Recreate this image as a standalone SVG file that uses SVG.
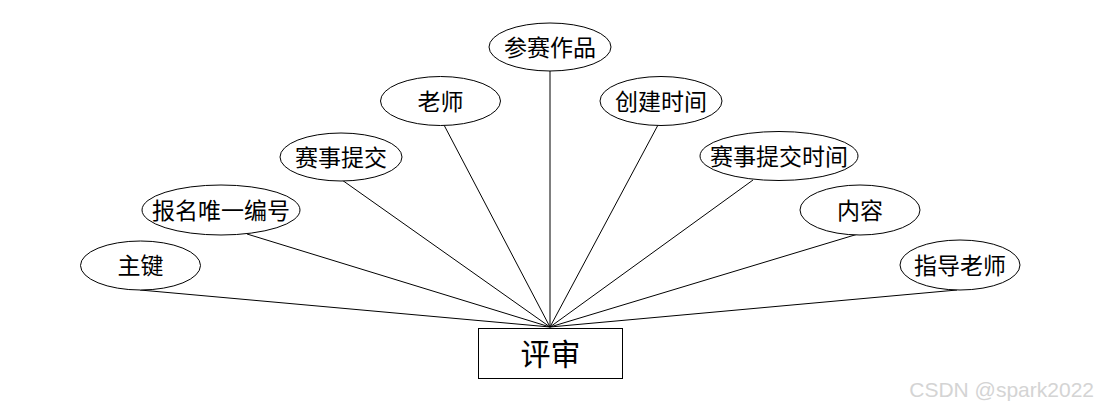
<svg xmlns="http://www.w3.org/2000/svg" width="1100" height="408" viewBox="0 0 1100 408">
<style>
.e{fill:#fff;stroke:#000;stroke-width:1}
.t{font-family:"Liberation Sans","Noto Sans CJK SC",sans-serif;font-size:23px;fill:#000;text-anchor:middle;dominant-baseline:central}
.c line{stroke:#000;stroke-width:1}
</style>
<rect width="1100" height="408" fill="#fff"/>
<g class="c" id="connectors">
<line x1="140" y1="290" x2="550" y2="327"/>
<line x1="247" y1="234" x2="550" y2="327"/>
<line x1="342" y1="180" x2="550" y2="327"/>
<line x1="444" y1="125" x2="550" y2="327"/>
<line x1="550" y1="71" x2="550" y2="327"/>
<line x1="658" y1="125" x2="550" y2="327"/>
<line x1="753" y1="180" x2="550" y2="327"/>
<line x1="858" y1="234" x2="550" y2="327"/>
<line x1="957" y1="290" x2="550" y2="327"/>
</g>
<g id="n1"><ellipse class="e" cx="140.5" cy="265.5" rx="60" ry="24.5"/><text class="t" x="140.5" y="266">主键</text></g>
<g id="n2"><ellipse class="e" cx="221" cy="210" rx="79" ry="25"/><text class="t" x="221" y="210.5">报名唯一编号</text></g>
<g id="n3"><ellipse class="e" cx="341" cy="157" rx="61" ry="24"/><text class="t" x="341" y="157.5">赛事提交</text></g>
<g id="n4"><ellipse class="e" cx="440.5" cy="101" rx="60" ry="24.5"/><text class="t" x="440.5" y="101.5">老师</text></g>
<g id="n5"><ellipse class="e" cx="550" cy="47" rx="61" ry="24"/><text class="t" x="550" y="47.5">参赛作品</text></g>
<g id="n6"><ellipse class="e" cx="661" cy="101" rx="61" ry="24.5"/><text class="t" x="661" y="101.5">创建时间</text></g>
<g id="n7"><ellipse class="e" cx="779" cy="156" rx="79" ry="24.5"/><text class="t" x="779" y="156.5">赛事提交时间</text></g>
<g id="n8"><ellipse class="e" cx="860" cy="210" rx="60" ry="25"/><text class="t" x="860" y="210.5">内容</text></g>
<g id="n9"><ellipse class="e" cx="960" cy="265" rx="60" ry="25"/><text class="t" x="960" y="265.5">指导老师</text></g>
<g id="entity"><rect x="478.5" y="328.5" width="144" height="50" fill="#fff" stroke="#000" stroke-width="1"/><text class="t" x="550.5" y="354" style="font-size:30px">评审</text></g>
<text x="1094" y="397" text-anchor="end" style="font-family:'Liberation Sans',Arial,sans-serif;font-size:21px;fill:#d4d4d4">CSDN @spark2022</text>
</svg>
